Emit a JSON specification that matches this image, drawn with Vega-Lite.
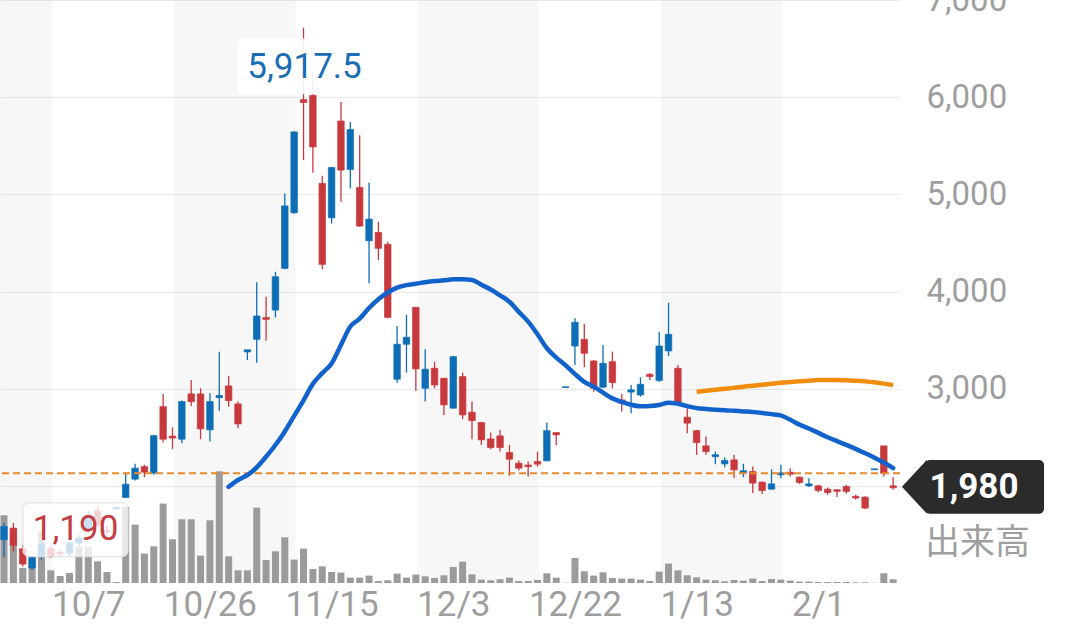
{
  "$schema": "https://vega.github.io/schema/vega-lite/v6.json",
  "width": 900,
  "height": 583,
  "autosize": {"type": "none"},
  "padding": {"left": 0, "top": 0, "right": 180, "bottom": 45},
  "background": "white",
  "view": {"stroke": null},
  "config": {"font": "Roboto", "scale": {"continuousPadding": 0}},
  "datasets": {
    "k": [
      {"i":0,"d":"2021-09-24","o":1445,"h":1620,"l":1270,"c":1582,"v":677000},
      {"i":1,"d":"2021-09-27","o":1565,"h":1617,"l":1325,"c":1386,"v":534000},
      {"i":2,"d":"2021-09-28","o":1352,"h":1393,"l":1170,"c":1195,"v":150000},
      {"i":3,"d":"2021-09-29","o":1154,"h":1278,"l":1135,"c":1267,"v":247000},
      {"i":4,"d":"2021-09-30","o":1282,"h":1440,"l":1240,"c":1400,"v":510000},
      {"i":5,"d":"2021-10-01","o":1352,"h":1393,"l":1260,"c":1270,"v":127000},
      {"i":6,"d":"2021-10-04","o":1315,"h":1338,"l":1270,"c":1300,"v":70000},
      {"i":7,"d":"2021-10-05","o":1308,"h":1430,"l":1273,"c":1411,"v":100000},
      {"i":8,"d":"2021-10-06","o":1411,"h":1496,"l":1376,"c":1462,"v":360000},
      {"i":9,"d":"2021-10-07","o":1548,"h":1743,"l":1517,"c":1702,"v":360000},
      {"i":10,"d":"2021-10-08","o":1743,"h":1790,"l":1580,"c":1599,"v":217000},
      {"i":11,"d":"2021-10-11","o":1540,"h":1590,"l":1490,"c":1525,"v":110000},
      {"i":12,"d":"2021-10-12","o":1762,"h":1780,"l":1760,"c":1778,"v":10000},
      {"i":13,"d":"2021-10-13","o":1880,"h":2137,"l":1877,"c":2017,"v":760000},
      {"i":14,"d":"2021-10-14","o":2069,"h":2226,"l":2054,"c":2182,"v":584000},
      {"i":15,"d":"2021-10-15","o":2198,"h":2216,"l":2089,"c":2141,"v":294000},
      {"i":16,"d":"2021-10-18","o":2131,"h":2524,"l":2113,"c":2517,"v":367000},
      {"i":17,"d":"2021-10-19","o":2815,"h":2946,"l":2445,"c":2480,"v":794000},
      {"i":18,"d":"2021-10-20","o":2512,"h":2603,"l":2377,"c":2492,"v":437000},
      {"i":19,"d":"2021-10-21","o":2480,"h":2877,"l":2439,"c":2867,"v":637000},
      {"i":20,"d":"2021-10-22","o":2946,"h":3090,"l":2822,"c":2867,"v":637000},
      {"i":21,"d":"2021-10-25","o":2946,"h":3004,"l":2480,"c":2586,"v":274000},
      {"i":22,"d":"2021-10-26","o":2576,"h":2953,"l":2455,"c":2867,"v":627000},
      {"i":23,"d":"2021-10-27","o":2908,"h":3381,"l":2774,"c":2930,"v":1117000},
      {"i":24,"d":"2021-10-28","o":3028,"h":3131,"l":2815,"c":2877,"v":267000,"ma25":1990},
      {"i":25,"d":"2021-10-29","o":2843,"h":2867,"l":2593,"c":2637,"v":127000,"ma25":2060},
      {"i":26,"d":"2021-11-01","o":3378,"h":3400,"l":3295,"c":3400,"v":127000,"ma25":2110},
      {"i":27,"d":"2021-11-02","o":3508,"h":4094,"l":3267,"c":3748,"v":754000,"ma25":2190},
      {"i":28,"d":"2021-11-04","o":3733,"h":3946,"l":3494,"c":3713,"v":230000,"ma25":2300},
      {"i":29,"d":"2021-11-05","o":3809,"h":4203,"l":3734,"c":4152,"v":317000,"ma25":2420},
      {"i":30,"d":"2021-11-08","o":4238,"h":5009,"l":4228,"c":4881,"v":457000,"ma25":2560},
      {"i":31,"d":"2021-11-09","o":4810,"h":5650,"l":4800,"c":5642,"v":234000,"ma25":2720},
      {"i":32,"d":"2021-11-10","o":5975,"h":6715,"l":5353,"c":5945,"v":344000,"ma25":2880},
      {"i":33,"d":"2021-11-11","o":6019,"h":6259,"l":5221,"c":5488,"v":140000,"ma25":3050},
      {"i":34,"d":"2021-11-12","o":5112,"h":5190,"l":4228,"c":4279,"v":167000,"ma25":3160},
      {"i":35,"d":"2021-11-15","o":4758,"h":5279,"l":4700,"c":5276,"v":110000,"ma25":3260},
      {"i":36,"d":"2021-11-16","o":5755,"h":5951,"l":4923,"c":5249,"v":104000,"ma25":3450},
      {"i":37,"d":"2021-11-17","o":5256,"h":5745,"l":5060,"c":5667,"v":54000,"ma25":3640},
      {"i":38,"d":"2021-11-18","o":5071,"h":5608,"l":4666,"c":4673,"v":54000,"ma25":3720},
      {"i":39,"d":"2021-11-19","o":4522,"h":5118,"l":4084,"c":4745,"v":74000,"ma25":3830},
      {"i":40,"d":"2021-11-22","o":4608,"h":4717,"l":4323,"c":4444,"v":20000,"ma25":3920},
      {"i":41,"d":"2021-11-24","o":4485,"h":4511,"l":3724,"c":3734,"v":27000,"ma25":3990},
      {"i":42,"d":"2021-11-25","o":3097,"h":3645,"l":3062,"c":3457,"v":94000,"ma25":4040},
      {"i":43,"d":"2021-11-26","o":3457,"h":3758,"l":3165,"c":3529,"v":54000,"ma25":4066},
      {"i":44,"d":"2021-11-29","o":3837,"h":3840,"l":2977,"c":3203,"v":84000,"ma25":4080},
      {"i":45,"d":"2021-11-30","o":3004,"h":3405,"l":2867,"c":3200,"v":67000,"ma25":4095},
      {"i":46,"d":"2021-12-01","o":3210,"h":3278,"l":3004,"c":3038,"v":50000,"ma25":4107},
      {"i":47,"d":"2021-12-02","o":3107,"h":3110,"l":2730,"c":2833,"v":77000,"ma25":4115},
      {"i":48,"d":"2021-12-03","o":2799,"h":3336,"l":2799,"c":3329,"v":160000,"ma25":4125},
      {"i":49,"d":"2021-12-06","o":3124,"h":3165,"l":2686,"c":2730,"v":214000,"ma25":4125},
      {"i":50,"d":"2021-12-07","o":2758,"h":2867,"l":2480,"c":2671,"v":87000,"ma25":4118},
      {"i":51,"d":"2021-12-08","o":2651,"h":2655,"l":2421,"c":2473,"v":34000,"ma25":4070},
      {"i":52,"d":"2021-12-09","o":2483,"h":2548,"l":2377,"c":2394,"v":27000,"ma25":4020},
      {"i":53,"d":"2021-12-10","o":2514,"h":2576,"l":2353,"c":2394,"v":37000,"ma25":3960},
      {"i":54,"d":"2021-12-13","o":2342,"h":2421,"l":2103,"c":2274,"v":54000,"ma25":3895},
      {"i":55,"d":"2021-12-14","o":2233,"h":2260,"l":2157,"c":2182,"v":20000,"ma25":3790},
      {"i":56,"d":"2021-12-15","o":2214,"h":2250,"l":2096,"c":2198,"v":20000,"ma25":3690},
      {"i":57,"d":"2021-12-16","o":2250,"h":2353,"l":2198,"c":2223,"v":30000,"ma25":3560},
      {"i":58,"d":"2021-12-17","o":2257,"h":2651,"l":2257,"c":2568,"v":97000,"ma25":3416},
      {"i":59,"d":"2021-12-20","o":2548,"h":2550,"l":2421,"c":2524,"v":54000,"ma25":3320},
      {"i":60,"d":"2021-12-21","o":3012,"h":3020,"l":3012,"c":3020,"v":3000,"ma25":3240},
      {"i":61,"d":"2021-12-22","o":3439,"h":3724,"l":3244,"c":3683,"v":250000,"ma25":3150},
      {"i":62,"d":"2021-12-23","o":3508,"h":3665,"l":3220,"c":3364,"v":117000,"ma25":3070},
      {"i":63,"d":"2021-12-24","o":3285,"h":3295,"l":2969,"c":3004,"v":74000,"ma25":3021},
      {"i":64,"d":"2021-12-27","o":3015,"h":3450,"l":3004,"c":3261,"v":107000,"ma25":2960},
      {"i":65,"d":"2021-12-28","o":3278,"h":3381,"l":3004,"c":3062,"v":50000,"ma25":2900},
      {"i":66,"d":"2021-12-29","o":2884,"h":2946,"l":2764,"c":2850,"v":44000,"ma25":2865},
      {"i":67,"d":"2021-12-30","o":2965,"h":3038,"l":2747,"c":2988,"v":44000,"ma25":2835},
      {"i":68,"d":"2022-01-04","o":2935,"h":3117,"l":2918,"c":3045,"v":34000,"ma25":2820},
      {"i":69,"d":"2022-01-05","o":3148,"h":3158,"l":3090,"c":3124,"v":20000,"ma25":2822},
      {"i":70,"d":"2022-01-06","o":3083,"h":3587,"l":3072,"c":3439,"v":114000,"ma25":2832},
      {"i":71,"d":"2022-01-07","o":3388,"h":3884,"l":3336,"c":3559,"v":194000,"ma25":2855},
      {"i":72,"d":"2022-01-11","o":3210,"h":3244,"l":2833,"c":2850,"v":127000,"ma25":2845},
      {"i":73,"d":"2022-01-12","o":2706,"h":2798,"l":2542,"c":2645,"v":77000,"ma25":2820},
      {"i":74,"d":"2022-01-13","o":2568,"h":2576,"l":2319,"c":2445,"v":57000,"ma25":2800,"ma75":2969},
      {"i":75,"d":"2022-01-14","o":2411,"h":2507,"l":2319,"c":2353,"v":34000,"ma25":2790,"ma75":2978},
      {"i":76,"d":"2022-01-17","o":2300,"h":2353,"l":2223,"c":2320,"v":27000,"ma25":2782,"ma75":2988},
      {"i":77,"d":"2022-01-18","o":2226,"h":2295,"l":2192,"c":2260,"v":17000,"ma25":2778,"ma75":2998},
      {"i":78,"d":"2022-01-19","o":2267,"h":2319,"l":2079,"c":2164,"v":30000,"ma25":2772,"ma75":3008},
      {"i":79,"d":"2022-01-20","o":2135,"h":2226,"l":2089,"c":2155,"v":24000,"ma25":2766,"ma75":3020},
      {"i":80,"d":"2022-01-21","o":2147,"h":2198,"l":1925,"c":2028,"v":44000,"ma25":2760,"ma75":3030},
      {"i":81,"d":"2022-01-24","o":2038,"h":2044,"l":1915,"c":1952,"v":20000,"ma25":2750,"ma75":3040},
      {"i":82,"d":"2022-01-25","o":1966,"h":2171,"l":1959,"c":2020,"v":40000,"ma25":2738,"ma75":3050},
      {"i":83,"d":"2022-01-26","o":2113,"h":2216,"l":2079,"c":2133,"v":34000,"ma25":2725,"ma75":3060},
      {"i":84,"d":"2022-01-27","o":2140,"h":2182,"l":2096,"c":2120,"v":24000,"ma25":2680,"ma75":3068},
      {"i":85,"d":"2022-01-28","o":2089,"h":2096,"l":2020,"c":2034,"v":14000,"ma25":2630,"ma75":3075},
      {"i":86,"d":"2022-01-31","o":2000,"h":2079,"l":1987,"c":2020,"v":14000,"ma25":2590,"ma75":3082},
      {"i":87,"d":"2022-02-01","o":2000,"h":2010,"l":1935,"c":1952,"v":10000,"ma25":2545,"ma75":3088},
      {"i":88,"d":"2022-02-02","o":1966,"h":1983,"l":1908,"c":1931,"v":10000,"ma25":2500,"ma75":3090},
      {"i":89,"d":"2022-02-03","o":1960,"h":1962,"l":1884,"c":1943,"v":10000,"ma25":2460,"ma75":3090},
      {"i":90,"d":"2022-02-04","o":1993,"h":2010,"l":1918,"c":1942,"v":10000,"ma25":2421,"ma75":3086},
      {"i":91,"d":"2022-02-07","o":1892,"h":1908,"l":1856,"c":1875,"v":7000,"ma25":2380,"ma75":3082},
      {"i":92,"d":"2022-02-08","o":1884,"h":1894,"l":1760,"c":1771,"v":7000,"ma25":2336,"ma75":3075},
      {"i":93,"d":"2022-02-09","o":2165,"h":2175,"l":2165,"c":2175,"v":2000,"ma25":2290,"ma75":3065},
      {"i":94,"d":"2022-02-10","o":2411,"h":2411,"l":2096,"c":2130,"v":97000,"ma25":2240,"ma75":3052},
      {"i":95,"d":"2022-02-14","o":2000,"h":2089,"l":1959,"c":1980,"v":37000,"ma25":2182,"ma75":3038}
    ],
    "bands": [
      {"i": -1, "i2": 5.15},
      {"i": 18.15, "i2": 31.15},
      {"i": 44.15, "i2": 57.15},
      {"i": 70.15, "i2": 83.15}
    ]
  },
  "resolve": {"scale": {"y": "independent"}},
  "layer": [
    {
      "data": {"name": "bands"},
      "mark": {"type": "rect", "fill": "#000000", "opacity": 0.03},
      "encoding": {
        "x": {"field": "i", "type": "quantitative", "scale": {"domain": [-0.43, 95.73], "nice": false, "zero": false, "padding": 0},
          "axis": {"values": [9, 22, 35, 48, 61, 74, 87], "labelExpr": "datum.value==9?'10/7':datum.value==22?'10/26':datum.value==35?'11/15':datum.value==48?'12/3':datum.value==61?'12/22':datum.value==74?'1/13':'2/1'", "title": null, "grid": false, "ticks": false, "domain": false, "labelFontSize": 35, "labelColor": "#9e9e9e", "labelPadding": 4, "labelFont": "Roboto", "labelFlush": false, "labelOverlap": false}},
        "x2": {"field": "i2"}
      }
    },
    {
      "data": {"name": "k"},
      "mark": {"type": "bar", "size": 7, "color": "#9b9b9b"},
      "encoding": {
        "x": {"field": "i", "type": "quantitative", "scale": {"domain": [-0.43, 95.73], "nice": false, "zero": false, "padding": 0},
          "axis": {"values": [9, 22, 35, 48, 61, 74, 87], "labelExpr": "datum.value==9?'10/7':datum.value==22?'10/26':datum.value==35?'11/15':datum.value==48?'12/3':datum.value==61?'12/22':datum.value==74?'1/13':'2/1'", "title": null, "grid": false, "ticks": false, "domain": false, "labelFontSize": 35, "labelColor": "#9e9e9e", "labelPadding": 4, "labelFont": "Roboto", "labelFlush": false, "labelOverlap": false}},
        "y": {"field": "v", "type": "quantitative", "scale": {"domain": [0, 5830000], "nice": false}, "axis": null}
      }
    },
    {
      "data": {"name": "k"},
      "mark": {"type": "rule", "strokeWidth": 1.3},
      "encoding": {
        "x": {"field": "i", "type": "quantitative", "scale": {"domain": [-0.43, 95.73], "nice": false, "zero": false, "padding": 0},
          "axis": {"values": [9, 22, 35, 48, 61, 74, 87], "labelExpr": "datum.value==9?'10/7':datum.value==22?'10/26':datum.value==35?'11/15':datum.value==48?'12/3':datum.value==61?'12/22':datum.value==74?'1/13':'2/1'", "title": null, "grid": false, "ticks": false, "domain": false, "labelFontSize": 35, "labelColor": "#9e9e9e", "labelPadding": 4, "labelFont": "Roboto", "labelFlush": false, "labelOverlap": false}},
        "y": {"field": "l", "type": "quantitative", "scale": {"domain": [1000, 7000], "nice": false, "zero": false},
          "axis": {"orient": "right", "values": [2000, 3000, 4000, 5000, 6000, 7000], "labelExpr": "datum.value==2000?'':format(datum.value, ',')", "title": null, "grid": true, "gridColor": "#ebebeb", "gridWidth": 1, "ticks": false, "domain": false, "labelFontSize": 33, "labelColor": "#9e9e9e", "labelPadding": 26, "labelAlign": "left", "labelBaseline": "middle", "labelFont": "Roboto", "labelFlush": false, "labelOverlap": false}},
        "y2": {"field": "h"},
        "color": {"condition": {"test": "datum.c >= datum.o", "value": "#0d6eb6"}, "value": "#c8393e"}
      }
    },
    {
      "data": {"name": "k"},
      "mark": {"type": "bar", "size": 6.5, "strokeWidth": 0.7},
      "encoding": {
        "x": {"field": "i", "type": "quantitative", "scale": {"domain": [-0.43, 95.73], "nice": false, "zero": false, "padding": 0},
          "axis": {"values": [9, 22, 35, 48, 61, 74, 87], "labelExpr": "datum.value==9?'10/7':datum.value==22?'10/26':datum.value==35?'11/15':datum.value==48?'12/3':datum.value==61?'12/22':datum.value==74?'1/13':'2/1'", "title": null, "grid": false, "ticks": false, "domain": false, "labelFontSize": 35, "labelColor": "#9e9e9e", "labelPadding": 4, "labelFont": "Roboto", "labelFlush": false, "labelOverlap": false}},
        "y": {"field": "o", "type": "quantitative", "scale": {"domain": [1000, 7000], "nice": false, "zero": false}, "axis": null},
        "y2": {"field": "c"},
        "color": {"condition": {"test": "datum.c >= datum.o", "value": "#0d6eb6"}, "value": "#c8393e"},
        "stroke": {"condition": {"test": "datum.c >= datum.o", "value": "#0d6eb6"}, "value": "#c8393e"}
      }
    },
    {
      "data": {"values": [{"p": 2130}]},
      "mark": {"type": "rule", "color": "#e98a2c", "strokeWidth": 2, "strokeDash": [7, 4]},
      "encoding": {
        "y": {"field": "p", "type": "quantitative", "scale": {"domain": [1000, 7000], "nice": false, "zero": false}, "axis": null}
      }
    },
    {
      "data": {"name": "k"},
      "mark": {"type": "line", "color": "#1262cc", "strokeWidth": 4.5, "interpolate": "monotone", "strokeCap": "round"},
      "encoding": {
        "x": {"field": "i", "type": "quantitative", "scale": {"domain": [-0.43, 95.73], "nice": false, "zero": false, "padding": 0},
          "axis": {"values": [9, 22, 35, 48, 61, 74, 87], "labelExpr": "datum.value==9?'10/7':datum.value==22?'10/26':datum.value==35?'11/15':datum.value==48?'12/3':datum.value==61?'12/22':datum.value==74?'1/13':'2/1'", "title": null, "grid": false, "ticks": false, "domain": false, "labelFontSize": 35, "labelColor": "#9e9e9e", "labelPadding": 4, "labelFont": "Roboto", "labelFlush": false, "labelOverlap": false}},
        "y": {"field": "ma25", "type": "quantitative", "scale": {"domain": [1000, 7000], "nice": false, "zero": false}, "axis": null}
      }
    },
    {
      "data": {"name": "k"},
      "mark": {"type": "line", "color": "#f28c0c", "strokeWidth": 4.5, "interpolate": "monotone", "strokeCap": "butt"},
      "encoding": {
        "x": {"field": "i", "type": "quantitative", "scale": {"domain": [-0.43, 95.73], "nice": false, "zero": false, "padding": 0},
          "axis": {"values": [9, 22, 35, 48, 61, 74, 87], "labelExpr": "datum.value==9?'10/7':datum.value==22?'10/26':datum.value==35?'11/15':datum.value==48?'12/3':datum.value==61?'12/22':datum.value==74?'1/13':'2/1'", "title": null, "grid": false, "ticks": false, "domain": false, "labelFontSize": 35, "labelColor": "#9e9e9e", "labelPadding": 4, "labelFont": "Roboto", "labelFlush": false, "labelOverlap": false}},
        "y": {"field": "ma75", "type": "quantitative", "scale": {"domain": [1000, 7000], "nice": false, "zero": false}, "axis": null}
      }
    },
    {
      "data": {"values": [{"i": 2.03, "i2": 13.25, "p": 1825, "p2": 1270}]},
      "mark": {"type": "rect", "fill": "#ffffff", "fillOpacity": 0.78, "stroke": "#dedede", "strokeWidth": 1, "cornerRadius": 6},
      "encoding": {
        "x": {"field": "i", "type": "quantitative", "scale": {"domain": [-0.43, 95.73], "nice": false, "zero": false, "padding": 0},
          "axis": {"values": [9, 22, 35, 48, 61, 74, 87], "labelExpr": "datum.value==9?'10/7':datum.value==22?'10/26':datum.value==35?'11/15':datum.value==48?'12/3':datum.value==61?'12/22':datum.value==74?'1/13':'2/1'", "title": null, "grid": false, "ticks": false, "domain": false, "labelFontSize": 35, "labelColor": "#9e9e9e", "labelPadding": 4, "labelFont": "Roboto", "labelFlush": false, "labelOverlap": false}},
        "x2": {"field": "i2"},
        "y": {"field": "p", "type": "quantitative", "scale": {"domain": [1000, 7000], "nice": false, "zero": false}, "axis": null},
        "y2": {"field": "p2"}
      }
    },
    {
      "data": {"values": [{"i": 25.0, "i2": 38.9, "p": 6605, "p2": 6030}]},
      "mark": {"type": "rect", "fill": "#ffffff", "fillOpacity": 0.9, "cornerRadius": 6},
      "encoding": {
        "x": {"field": "i", "type": "quantitative", "scale": {"domain": [-0.43, 95.73], "nice": false, "zero": false, "padding": 0},
          "axis": {"values": [9, 22, 35, 48, 61, 74, 87], "labelExpr": "datum.value==9?'10/7':datum.value==22?'10/26':datum.value==35?'11/15':datum.value==48?'12/3':datum.value==61?'12/22':datum.value==74?'1/13':'2/1'", "title": null, "grid": false, "ticks": false, "domain": false, "labelFontSize": 35, "labelColor": "#9e9e9e", "labelPadding": 4, "labelFont": "Roboto", "labelFlush": false, "labelOverlap": false}},
        "x2": {"field": "i2"},
        "y": {"field": "p", "type": "quantitative", "scale": {"domain": [1000, 7000], "nice": false, "zero": false}, "axis": null},
        "y2": {"field": "p2"}
      }
    },
    {
      "data": {"values": [{"t": "5,917.5", "i": 32.1, "p": 6307}]},
      "mark": {"type": "text", "fontSize": 35, "color": "#1a6db3", "align": "center", "baseline": "middle", "font": "Roboto"},
      "encoding": {
        "x": {"field": "i", "type": "quantitative", "scale": {"domain": [-0.43, 95.73], "nice": false, "zero": false, "padding": 0},
          "axis": {"values": [9, 22, 35, 48, 61, 74, 87], "labelExpr": "datum.value==9?'10/7':datum.value==22?'10/26':datum.value==35?'11/15':datum.value==48?'12/3':datum.value==61?'12/22':datum.value==74?'1/13':'2/1'", "title": null, "grid": false, "ticks": false, "domain": false, "labelFontSize": 35, "labelColor": "#9e9e9e", "labelPadding": 4, "labelFont": "Roboto", "labelFlush": false, "labelOverlap": false}},
        "y": {"field": "p", "type": "quantitative", "scale": {"domain": [1000, 7000], "nice": false, "zero": false}, "axis": null},
        "text": {"field": "t"}
      }
    },
    {
      "data": {"values": [{"t": "1,190", "i": 7.64, "p": 1558}]},
      "mark": {"type": "text", "fontSize": 35, "color": "#c43b41", "align": "center", "baseline": "middle", "font": "Roboto"},
      "encoding": {
        "x": {"field": "i", "type": "quantitative", "scale": {"domain": [-0.43, 95.73], "nice": false, "zero": false, "padding": 0},
          "axis": {"values": [9, 22, 35, 48, 61, 74, 87], "labelExpr": "datum.value==9?'10/7':datum.value==22?'10/26':datum.value==35?'11/15':datum.value==48?'12/3':datum.value==61?'12/22':datum.value==74?'1/13':'2/1'", "title": null, "grid": false, "ticks": false, "domain": false, "labelFontSize": 35, "labelColor": "#9e9e9e", "labelPadding": 4, "labelFont": "Roboto", "labelFlush": false, "labelOverlap": false}},
        "y": {"field": "p", "type": "quantitative", "scale": {"domain": [1000, 7000], "nice": false, "zero": false}, "axis": null},
        "text": {"field": "t"}
      }
    },
    {
      "data": {"values": [{"i": 98.41, "i2": 111.12, "p": 2267, "p2": 1712}]},
      "mark": {"type": "rect", "fill": "#2b2b2b", "cornerRadius": 5},
      "encoding": {
        "x": {"field": "i", "type": "quantitative", "scale": {"domain": [-0.43, 95.73], "nice": false, "zero": false, "padding": 0},
          "axis": {"values": [9, 22, 35, 48, 61, 74, 87], "labelExpr": "datum.value==9?'10/7':datum.value==22?'10/26':datum.value==35?'11/15':datum.value==48?'12/3':datum.value==61?'12/22':datum.value==74?'1/13':'2/1'", "title": null, "grid": false, "ticks": false, "domain": false, "labelFontSize": 35, "labelColor": "#9e9e9e", "labelPadding": 4, "labelFont": "Roboto", "labelFlush": false, "labelOverlap": false}},
        "x2": {"field": "i2"},
        "y": {"field": "p", "type": "quantitative", "scale": {"domain": [1000, 7000], "nice": false, "zero": false}, "axis": null},
        "y2": {"field": "p2"}
      }
    },
    {
      "data": {"values": [{"i": 97.23, "p": 1990}]},
      "mark": {"type": "point", "shape": "M 0.48 -1 L -0.45 0 L 0.48 1 Z", "size": 2916, "filled": true, "fill": "#2b2b2b", "opacity": 1, "strokeWidth": 0},
      "encoding": {
        "x": {"field": "i", "type": "quantitative", "scale": {"domain": [-0.43, 95.73], "nice": false, "zero": false, "padding": 0},
          "axis": {"values": [9, 22, 35, 48, 61, 74, 87], "labelExpr": "datum.value==9?'10/7':datum.value==22?'10/26':datum.value==35?'11/15':datum.value==48?'12/3':datum.value==61?'12/22':datum.value==74?'1/13':'2/1'", "title": null, "grid": false, "ticks": false, "domain": false, "labelFontSize": 35, "labelColor": "#9e9e9e", "labelPadding": 4, "labelFont": "Roboto", "labelFlush": false, "labelOverlap": false}},
        "y": {"field": "p", "type": "quantitative", "scale": {"domain": [1000, 7000], "nice": false, "zero": false}, "axis": null}
      }
    },
    {
      "data": {"values": [{"t": "1,980", "i": 103.64, "p": 1990}]},
      "mark": {"type": "text", "fontSize": 35, "fontWeight": "bold", "color": "#ffffff", "align": "center", "baseline": "middle", "font": "Roboto"},
      "encoding": {
        "x": {"field": "i", "type": "quantitative", "scale": {"domain": [-0.43, 95.73], "nice": false, "zero": false, "padding": 0},
          "axis": {"values": [9, 22, 35, 48, 61, 74, 87], "labelExpr": "datum.value==9?'10/7':datum.value==22?'10/26':datum.value==35?'11/15':datum.value==48?'12/3':datum.value==61?'12/22':datum.value==74?'1/13':'2/1'", "title": null, "grid": false, "ticks": false, "domain": false, "labelFontSize": 35, "labelColor": "#9e9e9e", "labelPadding": 4, "labelFont": "Roboto", "labelFlush": false, "labelOverlap": false}},
        "y": {"field": "p", "type": "quantitative", "scale": {"domain": [1000, 7000], "nice": false, "zero": false}, "axis": null},
        "text": {"field": "t"}
      }
    },
    {
      "data": {"values": [{"t": "出来高", "i": 98.4, "p": 1414}]},
      "mark": {"type": "text", "fontSize": 35, "color": "#9e9e9e", "align": "left", "baseline": "middle", "font": "Noto Sans CJK JP"},
      "encoding": {
        "x": {"field": "i", "type": "quantitative", "scale": {"domain": [-0.43, 95.73], "nice": false, "zero": false, "padding": 0},
          "axis": {"values": [9, 22, 35, 48, 61, 74, 87], "labelExpr": "datum.value==9?'10/7':datum.value==22?'10/26':datum.value==35?'11/15':datum.value==48?'12/3':datum.value==61?'12/22':datum.value==74?'1/13':'2/1'", "title": null, "grid": false, "ticks": false, "domain": false, "labelFontSize": 35, "labelColor": "#9e9e9e", "labelPadding": 4, "labelFont": "Roboto", "labelFlush": false, "labelOverlap": false}},
        "y": {"field": "p", "type": "quantitative", "scale": {"domain": [1000, 7000], "nice": false, "zero": false}, "axis": null},
        "text": {"field": "t"}
      }
    }
  ]
}
